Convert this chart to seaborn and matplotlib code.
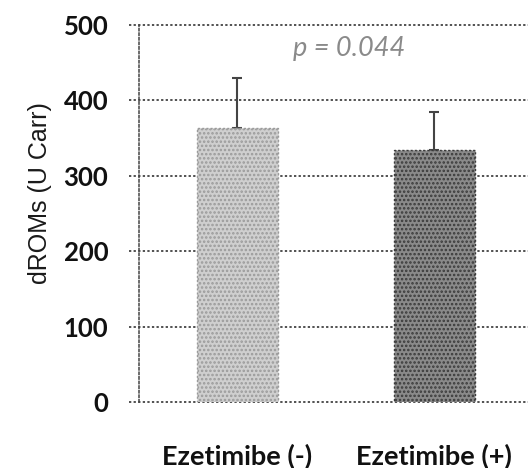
import matplotlib
matplotlib.use("Agg")
import matplotlib.pyplot as plt
import seaborn as sns
import pandas as pd

# Oxidative stress marker by ezetimibe treatment
groups = ["Ezetimibe (-)", "Ezetimibe (+)"]
means = [363, 334]
sd_upper = [67, 51]
yticks = [0, 100, 200, 300, 400, 500]
p_label = "p = 0.044"

df = pd.DataFrame({"group": groups, "dROMs": means})

sns.set_style("white")
plt.rcParams["font.family"] = ["Lato", "DejaVu Sans"]
plt.rcParams["hatch.linewidth"] = 1.2

fig = plt.figure(figsize=(5.28, 4.68), dpi=100)
ax = fig.add_axes([0.263, 0.141, 0.746, 0.806])

sns.barplot(data=df, x="group", y="dROMs", ax=ax, errorbar=None,
            width=0.41, palette=["#cfcfcf", "#8a8a8a"], hue="group",
            legend=False, zorder=3)

hatch_cols = ["#9a9a9a", "#3a3a3a"]
for patch, hc in zip(ax.patches, hatch_cols):
    patch.set_hatch("....")
    patch.set_edgecolor(hc)
    patch.set_linewidth(1.0)
    patch.set_linestyle((0, (1.5, 1.5)))

ax.errorbar(range(len(groups)), means, yerr=[[0] * len(groups), sd_upper],
            fmt="none", ecolor="#444444", elinewidth=1.5, capsize=3.5,
            capthick=1.5, linestyle=(0, (2, 1.5)), zorder=2)

ax.set_ylim(0, 500)
ax.set_xlim(-0.5, 1.5)
ax.set_yticks(yticks)
ax.set_yticklabels([str(t) for t in yticks], fontsize=18.5, fontweight="bold",
                   color="#111111")
ax.set_xticks(range(len(groups)))
ax.set_xticklabels(groups, fontsize=19.5, fontweight="bold", color="#111111")
ax.tick_params(axis="x", length=0, pad=30)
ax.tick_params(axis="y", length=0, pad=22)

ax.yaxis.grid(True, linestyle=(0, (1.5, 1.5)), color="#222222", linewidth=1.1)
# let the dotted grid run a little past the left spine
for gl in ax.get_ygridlines():
    gl.set_xdata([-0.025, 1])
    gl.set_clip_on(False)
ax.set_axisbelow(True)
for side in ["top", "right", "bottom"]:
    ax.spines[side].set_visible(False)
ax.spines["left"].set_linestyle((0, (1.5, 1.5)))
ax.spines["left"].set_color("#444444")
ax.spines["left"].set_linewidth(1.1)

ax.set_xlabel("")
ax.set_ylabel("dROMs (U Carr)", fontsize=18, family=["Liberation Sans"],
              color="#1a1a1a")
ax.yaxis.set_label_coords(-0.22, 0.555)

ax.text(0.57, 469, p_label, ha="center", va="center", fontsize=19.5,
        style="italic", color="#8a8a8a")

fig.savefig("out.png", dpi=100)
